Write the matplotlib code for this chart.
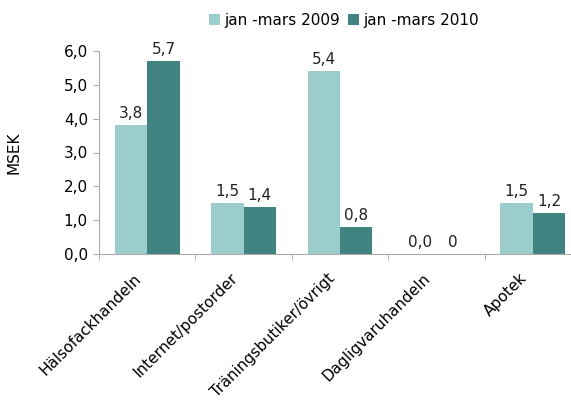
import matplotlib.pyplot as plt
import matplotlib.transforms as mtransforms
import numpy as np

kategorier = ['Hälsofackhandeln', 'Internet/postorder', 'Träningsbutiker/övrigt',
              'Dagligvaruhandeln', 'Apotek']
v2009 = [3.8, 1.5, 5.4, 0.0, 1.5]
v2010 = [5.7, 1.4, 0.8, 0.0, 1.2]
etiketter2009 = ['3,8', '1,5', '5,4', '0,0', '1,5']
etiketter2010 = ['5,7', '1,4', '0,8', '0', '1,2']
serier = ['jan -mars 2009', 'jan -mars 2010']
yticks = [0, 1, 2, 3, 4, 5, 6]

ljus = '#9bcdcd'
mork = '#418380'
grid_color = '#aaaaaa'
fs = 11

fig = plt.figure(figsize=(5.71, 4.0), dpi=100)
ax = fig.add_axes([99 / 571, 1 - 254 / 400, 482 / 571, 203 / 400])

x = np.arange(len(kategorier))
w = 0.337
b1 = ax.bar(x - w / 2, v2009, w, color=ljus, label=serier[0])
b2 = ax.bar(x + w / 2, v2010, w, color=mork, label=serier[1])

for rect, txt in zip(b1, etiketter2009):
    ax.text(rect.get_x() + rect.get_width() / 2, rect.get_height() + 0.12, txt,
            ha='center', va='bottom', fontsize=fs, color='#222222')
for rect, txt in zip(b2, etiketter2010):
    ax.text(rect.get_x() + rect.get_width() / 2, rect.get_height() + 0.12, txt,
            ha='center', va='bottom', fontsize=fs, color='#222222')

ax.set_xlim(-0.5, len(kategorier) - 0.5)
ax.set_ylim(0, 6)
ax.set_yticks(yticks)
ax.set_yticklabels([f'{t:.1f}'.replace('.', ',') for t in yticks], fontsize=fs)

ax.set_xticks(x)
ax.set_xticklabels(kategorier, rotation=45, ha='right', va='center',
                   rotation_mode='anchor', fontsize=fs)
ax.tick_params(axis='x', which='major', length=0, pad=14)
# flytta etiketterna lite åt vänster
offset = mtransforms.ScaledTranslation(-0.08, -0.025, fig.dpi_scale_trans)
for lbl in ax.get_xticklabels():
    lbl.set_transform(lbl.get_transform() + offset)
ax.set_xticks(np.arange(-0.5, len(kategorier), 1), minor=True)
ax.tick_params(axis='x', which='minor', length=4, color=grid_color, direction='out')
ax.tick_params(axis='y', length=4, color=grid_color, direction='out', pad=4)

for s in ['top', 'right']:
    ax.spines[s].set_visible(False)
for s in ['left', 'bottom']:
    ax.spines[s].set_color(grid_color)

ax.set_ylabel('MSEK', fontsize=fs, labelpad=30)

fig.legend(handles=[b1, b2], labels=serier, loc='center', bbox_to_anchor=(344 / 571, 1 - 20 / 400),
           ncol=2, frameon=False, fontsize=fs, handlelength=0.7, handleheight=0.7,
           handletextpad=0.3, columnspacing=0.5)

fig.savefig('out.png', dpi=100)
